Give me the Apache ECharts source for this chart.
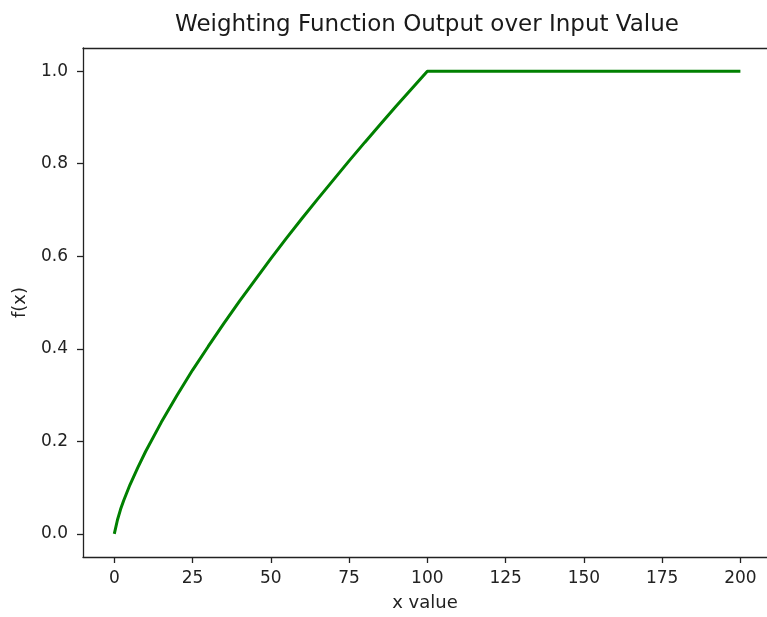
<!DOCTYPE html>
<html>
<head>
<meta charset="utf-8">
<script src="https://cdn.jsdelivr.net/npm/echarts@6/dist/echarts.min.js"></script>
<style>
html,body{margin:0;padding:0;background:#fff;}
#chart{width:767px;height:617px;}
</style>
</head>
<body>
<div id="chart"></div>
<script>
// Values
var xValues = [0, 1, 2, 3, 5, 7.5, 10, 15, 20, 25, 30, 35, 40, 45, 50, 55, 60, 65, 70, 75, 80, 85, 90, 95, 100, 200];
var fValues = [0, 0.03, 0.053, 0.072, 0.106, 0.143, 0.178, 0.241, 0.299, 0.354, 0.405, 0.455, 0.503, 0.549, 0.595, 0.639, 0.682, 0.724, 0.765, 0.806, 0.846, 0.885, 0.924, 0.962, 1.0, 1.0];
var xTicks = [0, 25, 50, 75, 100, 125, 150, 175, 200];
var yTicks = [0, 0.2, 0.4, 0.6, 0.8, 1.0];
var titleText = 'Weighting Function Output over Input Value';
var xName = 'x value';
var yName = 'f(x)';

var points = xValues.map(function (x, i) { return [x, fValues[i]]; });
var FONT = 'DejaVu Sans';
var AX = '#222';
var chart = echarts.init(document.getElementById('chart'), null, {renderer: 'canvas'});
chart.setOption({
  animation: false,
  backgroundColor: '#fff',
  title: {
    text: titleText,
    left: 427, top: 14, padding: 0,
    textAlign: 'center',
    textStyle: {fontFamily: FONT, fontSize: 23, fontWeight: 'normal', color: '#1a1a1a'}
  },
  grid: {left: 83, top: 48, right: 0, bottom: 56, show: false, containLabel: false},
  xAxis: [{
    type: 'value', min: -10, max: 208.5, position: 'bottom',
    name: xName, nameLocation: 'middle', nameGap: 37,
    nameTextStyle: {fontFamily: FONT, fontSize: 18, color: AX},
    axisLine: {show: true, onZero: false, lineStyle: {color: AX, width: 1.3}},
    axisTick: {show: true, length: 6, customValues: xTicks, lineStyle: {color: AX, width: 1.3}},
    axisLabel: {customValues: xTicks, margin: 13, fontFamily: FONT, fontSize: 17, color: AX},
    splitLine: {show: false}
  }, {
    type: 'value', min: -10, max: 208.5, position: 'top',
    axisLine: {show: true, onZero: false, lineStyle: {color: AX, width: 1.3}},
    axisTick: {show: false}, axisLabel: {show: false}, splitLine: {show: false}
  }],
  yAxis: {
    type: 'value', min: -0.05, max: 1.05,
    name: yName, nameLocation: 'middle', nameGap: 54, nameRotate: 90,
    nameTextStyle: {fontFamily: FONT, fontSize: 18, color: AX},
    axisLine: {show: true, onZero: false, lineStyle: {color: AX, width: 1.3}},
    axisTick: {show: true, length: 6, customValues: yTicks, lineStyle: {color: AX, width: 1.3}},
    axisLabel: {customValues: yTicks, margin: 15, fontFamily: FONT, fontSize: 17, color: AX,
      formatter: function (v) { return v.toFixed(1); }},
    splitLine: {show: false}
  },
  series: [{
    type: 'line',
    xAxisIndex: 0,
    data: points,
    showSymbol: false,
    smooth: false,
    lineStyle: {color: '#008000', width: 3},
    itemStyle: {color: '#008000'}
  }]
});
</script>
</body>
</html>
